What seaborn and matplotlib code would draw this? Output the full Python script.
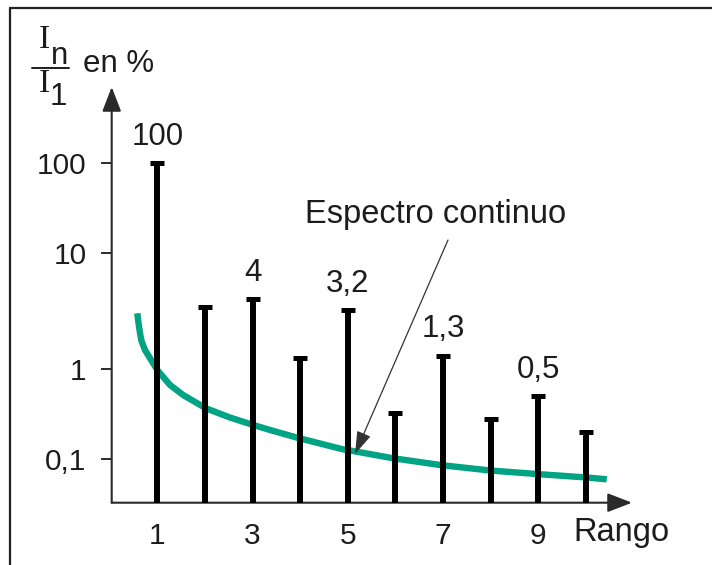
import numpy as np
import matplotlib
matplotlib.use("Agg")
import matplotlib.pyplot as plt
from matplotlib.lines import Line2D
import seaborn as sns

# ---------------- data ----------------
ranks = [1, 2, 3, 4, 5, 6, 7, 8, 9, 10]
amplitudes = [100, 3.4, 4, 1.25, 3.2, 0.32, 1.3, 0.28, 0.5, 0.2]
value_labels = ["100", "", "4", "", "3,2", "", "1,3", "", "0,5", ""]

curve_x = [0.58, 0.605, 0.637, 0.668, 0.742, 1.0, 1.267, 1.546, 2.022, 2.526,
           2.982, 3.366, 3.96, 4.871, 5.921, 6.935, 7.985, 8.966, 10.015, 10.435]
curve_y = [3.02, 2.49, 2.03, 1.74, 1.45, 0.967, 0.66, 0.51, 0.364, 0.288,
           0.241, 0.2096, 0.1709, 0.129, 0.1026, 0.0858, 0.0746, 0.0682, 0.0624, 0.0596]

y_ticks = [0.1, 1, 10, 100]
y_tick_labels = ["0,1", "1", "10", "100"]
x_ticks = [1, 3, 5, 7, 9]
x_tick_labels = ["1", "3", "5", "7", "9"]

# ---------------- style ----------------
sns.set_theme(style="white")
plt.rcParams["font.family"] = ["Liberation Sans", "DejaVu Sans"]
TXT = "#1c1c1c"
AX = "#2a2a2a"
TEAL = "#00a383"

W, H = 712, 565
fig = plt.figure(figsize=(W / 100, H / 100), dpi=100)

def fx(x):
    return x / W

def fy(y):
    return 1 - y / H

# axes box in pixels (y-axis at x=111.7, x-axis at y=502.7, arrow tips at 632 / 87)
L, R, B, T = 111.7, 632.0, 502.7, 87.0
ax = fig.add_axes([fx(L), fy(B), (R - L) / W, (B - T) / H])

# hand-drawn quasi-log scale calibrated on the drawn ticks
KN_LOG = np.array([-1.0, 0.0, 1.0, 2.0])
KN_POS = np.array([0.0, 90.3, 205.7, 295.7])

def _pw(x, xp, fp):
    x = np.asarray(x, dtype=float)
    y = np.interp(x, xp, fp)
    lo = x < xp[0]
    hi = x > xp[-1]
    y = np.where(lo, fp[0] + (x - xp[0]) * (fp[1] - fp[0]) / (xp[1] - xp[0]), y)
    y = np.where(hi, fp[-1] + (x - xp[-1]) * (fp[-1] - fp[-2]) / (xp[-1] - xp[-2]), y)
    return y

def fwd(v):
    v = np.asarray(v, dtype=float)
    return _pw(np.log10(np.maximum(v, 1e-300)), KN_LOG, KN_POS)

def inv(p):
    return 10 ** _pw(p, KN_POS, KN_LOG)

ax.set_yscale("function", functions=(fwd, inv))
ybot = float(inv(459 - B))
ytop = float(inv(459 - T))
ax.set_ylim(ybot, ytop)
# x: rank 1 at px 157.3, rank 10 at px 586
slope = (586 - 157.3) / 9
ax.set_xlim(1 + (L - 157.3) / slope, 1 + (R - 157.3) / slope)

# continuous spectrum curve
sns.lineplot(x=curve_x, y=curve_y, ax=ax, color=TEAL, linewidth=4.6,
             sort=False, estimator=None, zorder=2)
ax.lines[-1].set_solid_capstyle("butt")
ax.lines[-1].set_solid_joinstyle("round")

# harmonic bars
ax.vlines(ranks, ybot, amplitudes, colors="black", linewidth=4.3, zorder=3)
ax.plot(ranks, amplitudes, linestyle="none", marker="_", color="black",
        markersize=10.5, markeredgewidth=3.6, zorder=3)

for r, a, lab in zip(ranks, amplitudes, value_labels):
    if lab:
        ax.annotate(lab, (r, a), xytext=(0, 8), textcoords="offset points",
                    ha="center", va="bottom", fontsize=22.5, color=TXT)

# axes look
for s in ax.spines.values():
    s.set_visible(False)
ax.set_yticks(y_ticks)
ax.set_yticklabels(y_tick_labels)
ax.yaxis.set_minor_locator(matplotlib.ticker.NullLocator())
ax.set_xticks(x_ticks)
ax.set_xticklabels(x_tick_labels)
ax.tick_params(axis="y", which="major", left=True, length=8, width=1.4,
               color=AX, pad=10, labelsize=21.5, labelcolor=TXT, direction="out")
ax.tick_params(axis="x", which="major", bottom=True, length=0, pad=14,
               labelsize=21.5, labelcolor=TXT)
ax.grid(False)
ax.set_facecolor("none")

arrow_kw = dict(arrowstyle="-|>,head_length=15,head_width=5.8", color=AX,
                lw=1.5, shrinkA=0, shrinkB=0, mutation_scale=1)
ax.annotate("", xy=(1, 0), xytext=(0, 0), xycoords="axes fraction",
            textcoords="axes fraction", arrowprops=arrow_kw, zorder=1)
ax.annotate("", xy=(0, 1), xytext=(0, 0), xycoords="axes fraction",
            textcoords="axes fraction", arrowprops=arrow_kw, zorder=1)

# "Espectro continuo" callout
fig.text(fx(436), fy(223), "Espectro continuo", ha="center", va="baseline",
         fontsize=23.5, color=TXT)
ax.annotate("", xy=(355, H - 454), xytext=(448, H - 240),
            xycoords="figure pixels", textcoords="figure pixels",
            arrowprops=dict(arrowstyle="-|>,head_length=14,head_width=4.5",
                            color="#333333", lw=0.9, shrinkA=0, shrinkB=0,
                            mutation_scale=1))

# x-axis name
fig.text(fx(573), fy(541), "Rango", ha="left", va="baseline", fontsize=23.5, color=TXT)

# y-axis name: I_n / I_1 en %
serif = ["Liberation Serif", "DejaVu Serif"]
fig.text(fx(44), fy(48.3), "I", ha="center", va="baseline", fontsize=24,
         family=serif, color=TXT)
fig.text(fx(59.5), fy(64.3), "n", ha="center", va="baseline", fontsize=22.5, color=TXT)
fig.add_artist(Line2D([fx(31.7), fx(69.3)], [fy(67.7), fy(67.7)], color=TXT,
                      lw=1.4, transform=fig.transFigure))
fig.text(fx(44), fy(91.7), "I", ha="center", va="baseline", fontsize=24,
         family=serif, color=TXT)
fig.text(fx(58.5), fy(105), "1", ha="center", va="baseline", fontsize=22.5, color=TXT)
fig.text(fx(83), fy(71.7), "en %", ha="left", va="baseline", fontsize=22.5, color=TXT)

# partial outer frame (top and left edges)
fig.add_artist(Line2D([fx(10), 1.0], [fy(8), fy(8)], color="#222222", lw=1.6,
                      transform=fig.transFigure))
fig.add_artist(Line2D([fx(10), fx(10)], [fy(8), 0.0], color="#222222", lw=1.6,
                      transform=fig.transFigure))

fig.savefig("out.png", dpi=100, facecolor="white")
